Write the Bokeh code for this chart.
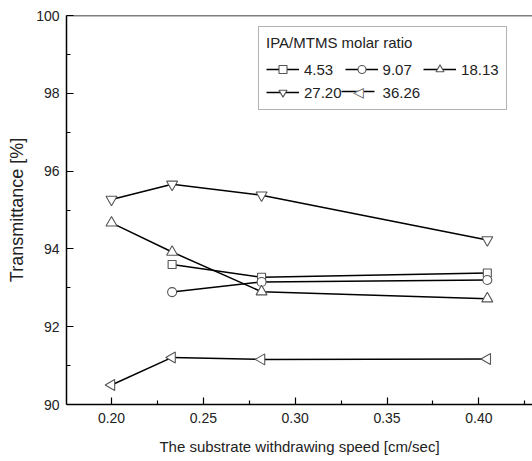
import numpy as np
from bokeh.plotting import figure
from bokeh.models import Legend, LegendItem, Span, FixedTicker, Label, BoxAnnotation
from bokeh.embed import file_html
from bokeh.resources import INLINE

speed = [0.200, 0.233, 0.2817, 0.4046]
ratios = ["4.53", "9.07", "18.13", "27.20", "36.26"]
t_453 = [None, 93.60, 93.27, 93.38]
t_907 = [None, 92.89, 93.15, 93.20]
t_1813 = [94.67, 93.92, 92.90, 92.72]
t_2720 = [95.27, 95.66, 95.38, 94.23]
t_3626 = [90.50, 91.21, 91.16, 91.17]
x_ticks = [0.20, 0.25, 0.30, 0.35, 0.40]
y_ticks = [90, 92, 94, 96, 98, 100]

FONT = "Liberation Sans"

p = figure(width=532, height=461, output_backend="svg", toolbar_location=None,
           x_range=(0.1755, 0.4292), y_range=(90, 100),
           min_border_left=66, min_border_right=0, min_border_top=15, min_border_bottom=57)
p.grid.visible = False
p.outline_line_color = None
p.background_fill_color = "white"
p.border_fill_color = "white"

for ax in (p.xaxis[0], p.yaxis[0]):
    ax.major_tick_in = 7
    ax.major_tick_out = 0
    ax.minor_tick_in = 4
    ax.minor_tick_out = 0
    ax.axis_line_color = "black"
    ax.axis_line_width = 1.5
    ax.major_tick_line_width = 1.2
    ax.minor_tick_line_width = 1.2
    ax.major_label_text_font = FONT
    ax.major_label_text_font_size = "14px"
    ax.major_label_text_color = "#222222"
    ax.axis_label_text_font = FONT
    ax.axis_label_text_font_style = "normal"
    ax.axis_label_text_color = "#222222"

p.xaxis.axis_label_text_font_size = "15px"
p.yaxis.axis_label_text_font_size = "18px"

p.xaxis.ticker = FixedTicker(ticks=x_ticks, minor_ticks=[0.175, 0.225, 0.275, 0.325, 0.375, 0.425])
p.yaxis.ticker = FixedTicker(ticks=y_ticks, minor_ticks=[91, 93, 95, 97, 99])
p.xaxis.major_label_overrides = {t: f"{t:.2f}" for t in x_ticks}
p.xaxis.axis_label = "The substrate withdrawing speed [cm/sec]"
p.yaxis.axis_label = "Transmittance [%]"
p.xaxis.major_label_standoff = 8
p.xaxis.axis_label_standoff = 12
p.yaxis.major_label_standoff = 7
p.yaxis.axis_label_standoff = 6

p.add_layout(Span(location=100, dimension="width", line_color="black", line_width=1.5))

series = [t_453, t_907, t_1813, t_2720, t_3626]
markers = [("square", 0, 8), ("circle", 0, 9), ("triangle", 0, 11),
           ("inverted_triangle", 0, 11), ("triangle", np.pi / 2, 11)]
items = []
for i, (name, ys, (mk, ang, sz)) in enumerate(zip(ratios, series, markers)):
    xs = [x for x, y in zip(speed, ys) if y is not None]
    yv = [y for y in ys if y is not None]
    l = p.line(xs, yv, line_color="black", line_width=1.5)
    s = p.scatter(xs, yv, marker=mk, angle=ang, size=sz, fill_color="white",
                  line_color="#555555", line_width=1.1)
    if i == 4:
        # legend glyphs ignore marker rotation: this entry's sample is drawn by annotations below
        ghost = p.line(xs, yv, line_alpha=0)
        items.append(LegendItem(label=name, renderers=[ghost]))
    else:
        items.append(LegendItem(label=name, renderers=[l, s]))

# legend sample "—◁—" for the 36.26 entry (screen units, inside the legend box)
p.add_layout(BoxAnnotation(left=275, right=308, bottom=312.3, top=313.7,
                           left_units="screen", right_units="screen",
                           bottom_units="screen", top_units="screen",
                           fill_color="black", fill_alpha=1, line_alpha=0))
for txt, col in (("\u25C0", "white"), ("\u25C1", "#555555")):
    p.add_layout(Label(x=292, y=313, x_units="screen", y_units="screen", text=txt,
                       text_font="DejaVu Sans", text_font_size="14px", text_color=col,
                       text_align="center", text_baseline="middle"))

legend = Legend(items=items, location=(192, 294), orientation="horizontal", ncols=3,
                title="IPA/MTMS molar ratio",
                title_text_font=FONT, title_text_font_size="15px", title_text_font_style="normal",
                title_text_color="#222222", title_standoff=8,
                label_text_font=FONT, label_text_font_size="15px", label_text_color="#222222",
                glyph_width=33, glyph_height=20, label_height=20, label_standoff=5,
                spacing=3, padding=7, margin=0,
                border_line_color="#666666", border_line_width=1,
                background_fill_alpha=0)
p.add_layout(legend)

open("out.html", "w").write(file_html(p, INLINE))
